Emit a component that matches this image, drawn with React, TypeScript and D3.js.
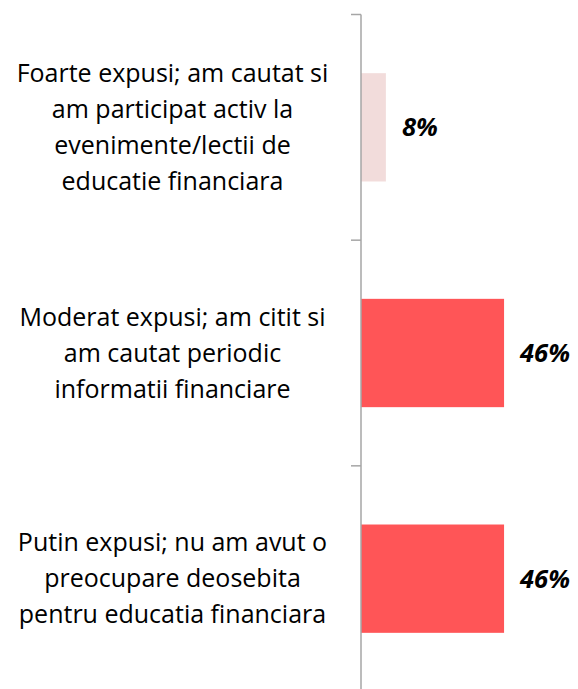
import React from "react";
import * as d3 from "d3";

const width = 578;
const height = 689;

const categories = [
  ["Foarte expusi; am cautat si", "am participat activ la", "evenimente/lectii de", "educatie financiara"],
  ["Moderat expusi; am citit si", "am cautat periodic", "informatii financiare"],
  ["Putin expusi; nu am avut o", "preocupare deosebita", "pentru educatia financiara"],
];
const values = [8, 46, 46];
const barColors = ["#F2DCDB", "#FF5557", "#FF5557"];

const axisX = 361;
const top = 14.5;
const bottom = 691.5;
const lineHeight = 36;

const y = d3.scaleBand<number>()
  .domain(d3.range(categories.length))
  .range([top, bottom])
  .paddingInner(0.52)
  .paddingOuter(0.26);

const x = d3.scaleLinear().domain([0, 50]).range([axisX, axisX + 155.5]);

const tickYs = d3.range(categories.length + 1).map(i => top + i * y.step());

const App = () => {
  return (
    <svg width={width} height={height} style={{ position: "absolute", left: 0, top: 0 }}>
      <rect width={width} height={height} fill="#fff" />
      {values.map((v, i) => (
        <g key={i}>
          <rect
            x={x(0)}
            y={y(i)}
            width={x(v) - x(0)}
            height={y.bandwidth()}
            fill={barColors[i]}
          />
          <text
            x={x(v) + 16}
            y={(y(i) as number) + y.bandwidth() / 2}
            dy="0.35em"
            fontFamily="Open Sans, sans-serif"
            fontSize={25.5}
            fontWeight="bold"
            fontStyle="italic"
            fill="#000"
          >
            {v}%
          </text>
          <text
            textAnchor="middle"
            fontFamily="Open Sans, sans-serif"
            fontSize={25}
            fill="#000"
          >
            {categories[i].map((line, j) => (
              <tspan
                key={j}
                x={172.5}
                y={(y(i) as number) + y.bandwidth() / 2 + (j - (categories[i].length - 1) / 2) * lineHeight}
                dy="0.35em"
              >
                {line}
              </tspan>
            ))}
          </text>
        </g>
      ))}
      <line x1={axisX} x2={axisX} y1={top} y2={bottom} stroke="#A6A6A6" strokeWidth={1.5} />
      {tickYs.map((t, i) => (
        <line key={i} x1={axisX - 10} x2={axisX} y1={t} y2={t} stroke="#A6A6A6" strokeWidth={1.5} />
      ))}
    </svg>
  );
};

export default App;
